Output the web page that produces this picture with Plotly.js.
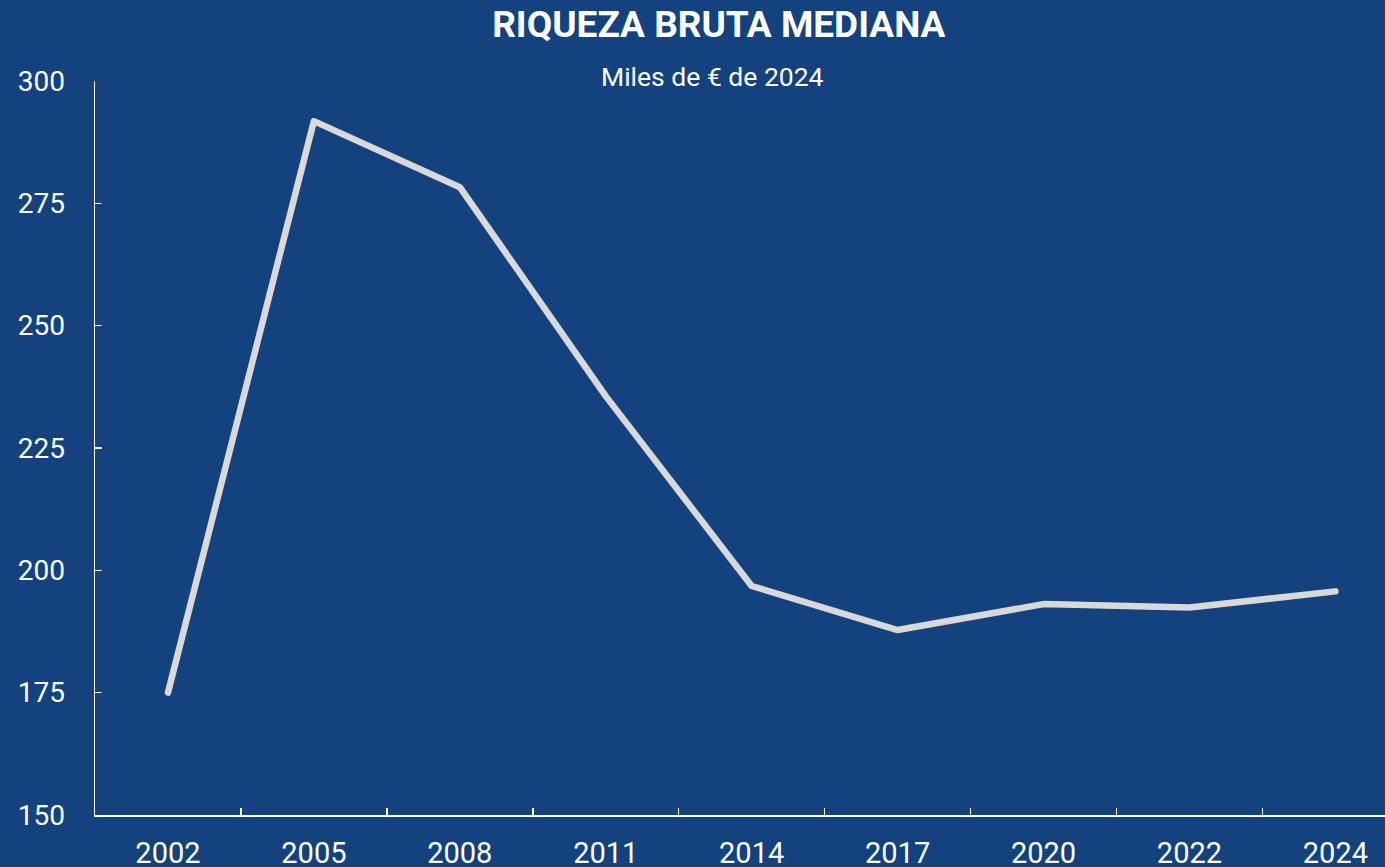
<!DOCTYPE html>
<html>
<head>
<meta charset="utf-8">
<script src="https://cdn.plot.ly/plotly-3.0.1.min.js"></script>
<style>
html,body{margin:0;padding:0;background:#13427f;}
#chart{width:1385px;height:867px;}
#chart .scatterlayer path.js-line{stroke-linecap:round;stroke-linejoin:round;}
</style>
</head>
<body>
<div id="chart"></div>
<script>
const years = ["2002","2005","2008","2011","2014","2017","2020","2022","2024"];
const riqueza = [175.0, 291.8, 278.3, 235.6, 196.8, 187.8, 193.1, 192.4, 195.7];
const yTicks = [150, 175, 200, 225, 250, 275, 300];

const bg = "#13427f";
const trace = {
  x: years, y: riqueza, type: "scatter", mode: "lines",
  line: {color: "#d9d9d9", width: 6.5},
  hoverinfo: "x+y"
};
const layout = {
  width: 1385, height: 867,
  paper_bgcolor: bg, plot_bgcolor: bg,
  margin: {l: 95, r: 0, t: 81, b: 52},
  font: {family: "Roboto, sans-serif", color: "#ffffff"},
  showlegend: false,
  title: {text: "<b>RIQUEZA BRUTA MEDIANA</b>", font: {size: 37, color: "#ffffff", family: "Roboto"},
          x: 0.519, xanchor: "center", y: 0.972, yanchor: "middle"},
  annotations: [{text: "Miles de € de 2024", xref: "paper", yref: "paper", x: (712-95)/1290, xanchor: "center",
                 y: (815-76)/734, yanchor: "middle", showarrow: false, font: {size: 26.5, color: "#ffffff"}}],
  xaxis: {
    type: "category", range: [-0.5, 8.34], tickson: "boundaries",
    ticks: "inside", ticklen: 7, tickwidth: 1.5, tickcolor: "#ffffff",
    showline: true, linecolor: "#ffffff", linewidth: 1.5,
    showgrid: false, zeroline: false,
    tickfont: {size: 29, color: "#ffffff"}, ticklabelstandoff: 12
  },
  yaxis: {
    range: [150, 300], tickvals: yTicks, ticktext: yTicks.map(String),
    ticks: "inside", ticklen: 7, tickwidth: 1.5, tickcolor: "#ffffff",
    showline: true, linecolor: "#ffffff", linewidth: 1.5,
    showgrid: false, zeroline: false,
    tickfont: {size: 28, color: "#ffffff"}, ticklabelstandoff: 23
  }
};
Plotly.newPlot("chart", [trace], layout, {displayModeBar: false, staticPlot: true});
</script>
</body>
</html>
